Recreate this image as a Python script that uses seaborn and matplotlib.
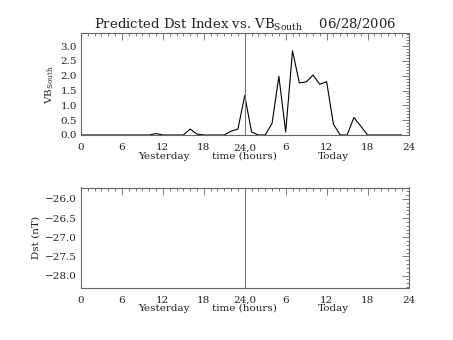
import numpy as np
import pandas as pd
import matplotlib
matplotlib.use("Agg")
import matplotlib.pyplot as plt
from matplotlib.ticker import MultipleLocator
import seaborn as sns

# ---- data ----
hours = list(range(0, 48))
vb_south = [0, 0, 0, 0, 0, 0, 0, 0, 0, 0,
            0, 0.05, 0, 0, 0, 0, 0.2, 0.03, 0, 0,
            0, 0, 0.13, 0.2, 1.33, 0.1, 0, 0, 0.39, 1.98,
            0.1, 2.84, 1.76, 1.79, 2.02, 1.71, 1.80, 0.36, 0, 0,
            0.59, 0.3, 0, 0, 0, 0, 0, 0]
x_ticks = [0, 6, 12, 18, 24, 30, 36, 42, 48]
x_ticklabels = ["0", "6", "12", "18", "24,0", "6", "12", "18", "24"]
vb_ticks = [0.0, 0.5, 1.0, 1.5, 2.0, 2.5, 3.0]
dst_ticks = [-26.0, -26.5, -27.0, -27.5, -28.0]
title = "Predicted Dst Index vs. VB$_{\\mathregular{South}}$    06/28/2006"

df = pd.DataFrame({"hour": hours, "vb": vb_south})

sns.set_style("white")
plt.rcParams["font.family"] = ["DejaVu Serif"]
plt.rcParams["mathtext.fontset"] = "dejavuserif"

fig = plt.figure(figsize=(4.53, 3.40), dpi=100)
L, R = 81 / 453, 408.5 / 453
ax1 = fig.add_axes([L, 1 - 135 / 340, R - L, (135 - 33.3) / 340])
ax2 = fig.add_axes([L, 1 - 287.5 / 340, R - L, (287.5 - 187.5) / 340])

ink = "#222222"
fs = 7.5
sns.lineplot(data=df, x="hour", y="vb", ax=ax1, color="black", linewidth=0.8)

for ax in (ax1, ax2):
    ax.axvline(24, color="#777777", linewidth=0.8)
    ax.set_xlim(0, 48)
    ax.set_xticks(x_ticks)
    ax.set_xticklabels(x_ticklabels)
    ax.xaxis.set_minor_locator(MultipleLocator(1))
    ax.yaxis.set_minor_locator(MultipleLocator(0.1))
    ax.tick_params(which="both", direction="in", top=True, right=True,
                   color="#666666", labelsize=fs, labelcolor=ink, width=0.6)
    ax.tick_params(which="major", length=5)
    ax.tick_params(which="minor", length=2.5)
    ax.tick_params(axis="x", which="major", pad=6)
    ax.tick_params(axis="y", which="major", pad=3)
    for s in ax.spines.values():
        s.set_color("#666666")
        s.set_linewidth(0.8)
    ax.set_xlabel("")
    for xpos, txt in ((12.2, "Yesterday"), (24, "time (hours)"), (37, "Today")):
        ax.text(xpos, -0.165, txt, transform=ax.get_xaxis_transform(),
                ha="center", va="top", fontsize=fs, color=ink)

ax1.set_ylim(0, 3.43)
ax1.set_yticks(vb_ticks)
ax1.set_yticklabels([f"{v:.1f}" for v in vb_ticks])
ax1.set_ylabel("VB$_{\\mathregular{South}}$", fontsize=fs, color=ink, labelpad=3)
ax1.set_title(title, fontsize=9.5, color=ink, pad=3)

ax2.set_ylim(-28.31, -25.7)
ax2.set_yticks(dst_ticks)
ax2.set_yticklabels([f"{v:.1f}".replace("-", "\u2212") for v in dst_ticks])
ax2.set_ylabel("Dst (nT)", fontsize=fs, color=ink, labelpad=3)

fig.savefig("out.png", dpi=100)
